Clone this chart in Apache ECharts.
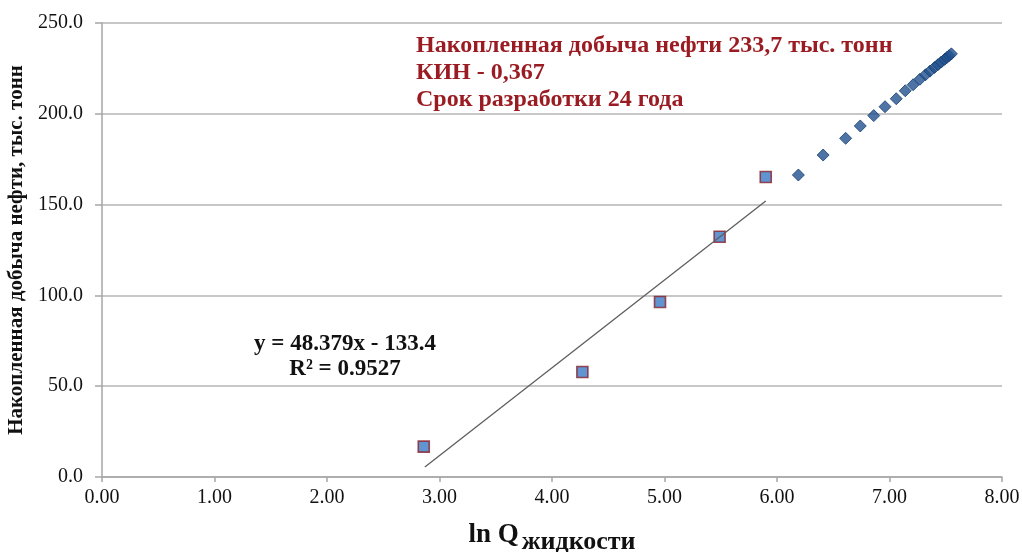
<!DOCTYPE html>
<html>
<head>
<meta charset="utf-8">
<script src="https://cdn.jsdelivr.net/npm/echarts@6/dist/echarts.min.js"></script>
<style>
  html, body { margin: 0; padding: 0; background: #fff; }
  #chart { width: 1022px; height: 552px; }
</style>
</head>
<body>
<div id="chart"></div>
<script>
// Early years (fitted): ln of cumulative liquid vs cumulative oil, thous. t
const fitX = [2.86, 4.27, 4.96, 5.49, 5.90];
const fitY = [16.7, 57.8, 96.4, 132.3, 165.2];

// Forecast years
const forecastX = [6.19, 6.41, 6.61, 6.74, 6.86, 6.96, 7.06,
                   7.14, 7.21, 7.27, 7.32, 7.36, 7.40, 7.43, 7.46, 7.49, 7.51, 7.53, 7.55];
const forecastY = [166.3, 177.3, 186.5, 193.3, 199.0, 203.9, 208.3,
                   212.7, 216.0, 219.0, 221.5, 223.5, 225.5, 227.0, 228.5, 230.0, 231.0, 232.0, 233.0];

// Linear trend over the fitted years
const trendSlope = 48.379;
const trendIntercept = -133.4;
const trendR2 = 0.9527;
const trendRange = [2.87, 5.90];

// Axis ticks
const xTicks = [0, 1, 2, 3, 4, 5, 6, 7, 8];
const yTicks = [0, 50, 100, 150, 200, 250];

const noteLines = [
  'Накопленная добыча нефти 233,7 тыс. тонн',
  'КИН - 0,367',
  'Срок разработки 24 года'
];

const serif = '"Liberation Serif", "DejaVu Serif", serif';

const fitData = fitX.map((x, i) => [x, fitY[i]]);
const forecastData = forecastX.map((x, i) => [x, forecastY[i]]);
const trendData = trendRange.map(x => [x, trendSlope * x + trendIntercept]);

const chart = echarts.init(document.getElementById('chart'), null, { renderer: 'canvas' });

chart.setOption({
  backgroundColor: '#ffffff',
  animation: false,
  grid: { left: 102, right: 20, top: 23, bottom: 75, containLabel: false, outerBoundsMode: 'none' },
  xAxis: {
    type: 'value',
    min: xTicks[0],
    max: xTicks[xTicks.length - 1],
    interval: 1,
    name: '{a|ln Q}{b|жидкости}',
    nameLocation: 'middle',
    nameGap: 38,
    nameTextStyle: {
      rich: {
        a: { fontFamily: serif, fontWeight: 'bold', fontSize: 27, color: '#111', padding: [0, 3, 0, 0] },
        b: { fontFamily: serif, fontWeight: 'bold', fontSize: 26, color: '#111', padding: [14, 0, 0, 0] }
      }
    },
    axisLine: { show: true, lineStyle: { color: '#a6a6a6', width: 1.5 } },
    axisTick: { show: true, length: 5, lineStyle: { color: '#a6a6a6', width: 1.5 } },
    axisLabel: {
      margin: 11,
      fontFamily: serif,
      fontSize: 20,
      color: '#111',
      formatter: v => v.toFixed(2)
    },
    splitLine: { show: false }
  },
  yAxis: {
    type: 'value',
    min: yTicks[0],
    max: yTicks[yTicks.length - 1],
    interval: 50,
    name: 'Накопленная добыча нефти, тыс. тонн',
    nameLocation: 'middle',
    nameGap: 70,
    nameTextStyle: { fontFamily: serif, fontWeight: 'bold', fontSize: 21, color: '#111' },
    axisLine: { show: true, lineStyle: { color: '#a6a6a6', width: 1.5 } },
    axisTick: { show: true, length: 7, lineStyle: { color: '#a6a6a6', width: 1.5 } },
    axisLabel: {
      margin: 19,
      fontFamily: serif,
      fontSize: 20,
      color: '#111',
      formatter: v => v.toFixed(1)
    },
    splitLine: { show: true, lineStyle: { color: '#b4b4b4', width: 1.5 } }
  },
  series: [
    {
      name: 'forecast',
      type: 'scatter',
      data: forecastData,
      symbol: 'diamond',
      symbolSize: 12,
      itemStyle: { color: '#21518f', borderColor: '#163e72', borderWidth: 1 },
      z: 3
    },
    {
      name: 'fit',
      type: 'scatter',
      data: fitData,
      symbol: 'rect',
      symbolSize: 11,
      itemStyle: { color: '#3a7bc6', borderColor: '#8a1f2a', borderWidth: 1.6 },
      z: 3
    },
    {
      name: 'trend',
      type: 'line',
      data: trendData,
      showSymbol: false,
      symbol: 'none',
      lineStyle: { color: '#5e5e5e', width: 1.3 },
      z: 4
    }
  ],
  graphic: [
    {
      type: 'text',
      left: 416,
      top: 32,
      style: {
        text: noteLines.join('\n'),
        fontFamily: serif,
        fontWeight: 'bold',
        fontSize: 24,
        lineHeight: 27,
        fill: '#9a1c22'
      }
    },
    {
      type: 'text',
      x: 345,
      y: 332,
      style: {
        text: 'y = ' + trendSlope.toFixed(3) + 'x - ' + Math.abs(trendIntercept).toFixed(1) +
              '\nR² = ' + trendR2.toFixed(4),
        fontFamily: serif,
        fontWeight: 'bold',
        fontSize: 23,
        lineHeight: 25,
        textAlign: 'center',
        fill: '#111'
      }
    }
  ]
});
</script>
</body>
</html>
